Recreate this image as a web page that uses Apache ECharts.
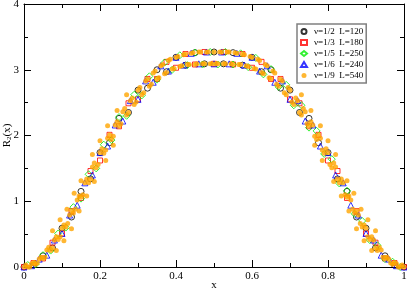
<!DOCTYPE html>
<html><head><meta charset="utf-8">
<script src="https://cdn.jsdelivr.net/npm/echarts@6/dist/echarts.min.js"></script>
<style>html,body{margin:0;padding:0;background:#fff}#c{width:407px;height:291px}</style>
</head><body><div id="c"></div>
<script>
// ---- data ----
var seriesNames = ['ν=1/2  L=120','ν=1/3  L=180','ν=1/5  L=250','ν=1/6  L=240','ν=1/9  L=540'];
var xTicks = [0, 0.2, 0.4, 0.6, 0.8, 1];
var yTicks = [0, 1, 2, 3, 4];

var xGrid25 = [0,0.025,0.05,0.075,0.1,0.125,0.15,0.175,0.2,0.225,0.25,0.275,0.3,0.325,0.35,0.375,0.4,0.425,0.45,0.475,0.5,
  0.525,0.55,0.575,0.6,0.625,0.65,0.675,0.7,0.725,0.75,0.775,0.8,0.825,0.85,0.875,0.9,0.925,0.95,0.975,1];
var yHalf = [0.00,0.03,0.17,0.29,0.59,0.76,1.15,1.34,1.74,1.89,2.26,2.35,2.69,2.72,3.00,2.97,3.19,3.07,3.26,3.09,3.27,
  3.09,3.26,3.07,3.19,2.97,3.00,2.72,2.69,2.35,2.26,1.89,1.74,1.34,1.15,0.76,0.59,0.29,0.17,0.03,0.00];
var yThird = [0.00,0.06,0.13,0.37,0.51,0.85,1.05,1.46,1.62,2.01,2.14,2.49,2.55,2.86,2.86,3.12,3.03,3.24,3.08,3.27,3.09,
  3.27,3.08,3.24,3.03,3.12,2.86,2.86,2.55,2.49,2.14,2.01,1.62,1.46,1.05,0.85,0.51,0.37,0.13,0.06,0.00];

var xGridOdd = [0.01,0.03,0.05,0.07,0.09,0.11,0.13,0.15,0.17,0.19,0.21,0.23,0.25,0.27,0.29,0.31,0.33,0.35,0.37,0.39,0.41,0.43,0.45,0.47,0.49,
  0.51,0.53,0.55,0.57,0.59,0.61,0.63,0.65,0.67,0.69,0.71,0.73,0.75,0.77,0.79,0.81,0.83,0.85,0.87,0.89,0.91,0.93,0.95,0.97,0.99];
var yFifth = [0.03,0.04,0.18,0.25,0.51,0.60,0.91,1.04,1.41,1.50,1.86,1.93,2.28,2.30,2.62,2.61,2.90,2.85,3.11,3.00,3.22,3.07,3.26,3.08,3.27,
  3.08,3.27,3.08,3.25,3.04,3.18,2.93,3.01,2.74,2.77,2.46,2.46,2.12,2.07,1.72,1.64,1.27,1.16,0.81,0.70,0.41,0.33,0.12,0.08,0.00];

var xGridEven = [0,0.02,0.04,0.06,0.08,0.1,0.12,0.14,0.16,0.18,0.2,0.22,0.24,0.26,0.28,0.3,0.32,0.34,0.36,0.38,0.4,0.42,0.44,0.46,0.48,0.5,
  0.52,0.54,0.56,0.58,0.6,0.62,0.64,0.66,0.68,0.7,0.72,0.74,0.76,0.78,0.8,0.82,0.84,0.86,0.88,0.9,0.92,0.94,0.96,0.98,1];
var ySixth = [0.00,0.02,0.12,0.18,0.41,0.51,0.79,0.94,1.28,1.40,1.74,1.84,2.16,2.22,2.53,2.55,2.83,2.81,3.06,2.98,3.19,3.07,3.25,3.09,3.27,3.09,
  3.27,3.09,3.25,3.07,3.19,2.98,3.06,2.81,2.83,2.55,2.53,2.22,2.16,1.84,1.74,1.40,1.28,0.94,0.79,0.51,0.41,0.18,0.12,0.02,0.00];

var xGrid01 = [0,0.01,0.02,0.03,0.04,0.05,0.06,0.07,0.08,0.09,0.1,0.11,0.12,0.13,0.14,0.15,0.16,0.17,0.18,0.19,0.2,
  0.21,0.22,0.23,0.24,0.25,0.26,0.27,0.28,0.29,0.3,0.31,0.32,0.33,0.34,0.35,0.36,0.37,0.38,0.39,0.4,
  0.41,0.42,0.43,0.44,0.45,0.46,0.47,0.48,0.49,0.5,0.51,0.52,0.53,0.54,0.55,0.56,0.57,0.58,0.59,0.6,
  0.61,0.62,0.63,0.64,0.65,0.66,0.67,0.68,0.69,0.7,0.71,0.72,0.73,0.74,0.75,0.76,0.77,0.78,0.79,0.8,
  0.81,0.82,0.83,0.84,0.85,0.86,0.87,0.88,0.89,0.9,0.91,0.92,0.93,0.94,0.95,0.96,0.97,0.98,0.99,1];
var yNinth = [0.00,0.00,0.05,0.04,0.12,0.13,0.26,0.25,0.41,0.42,0.59,0.61,0.79,0.82,1.02,1.06,1.28,1.28,1.52,1.51,1.74,
  1.73,1.96,1.94,2.16,2.14,2.36,2.31,2.53,2.47,2.69,2.62,2.83,2.75,2.95,2.86,3.06,2.94,3.14,3.01,3.19,
  3.05,3.23,3.08,3.25,3.08,3.27,3.09,3.27,3.09,3.27,3.09,3.27,3.09,3.27,3.08,3.25,3.08,3.23,3.05,3.19,
  3.01,3.14,2.94,3.06,2.86,2.95,2.75,2.83,2.62,2.69,2.47,2.53,2.31,2.36,2.14,2.16,1.94,1.96,1.73,1.74,
  1.51,1.52,1.28,1.28,1.06,1.02,0.82,0.79,0.61,0.59,0.42,0.41,0.25,0.26,0.13,0.12,0.04,0.05,0.00,0.00];
var xGrid005 = [0.005,0.015,0.025,0.035,0.045,0.055,0.065,0.075,0.085,0.095,0.105,0.115,0.125,0.135,0.145,0.155,0.165,0.175,0.185,0.195,
  0.205,0.215,0.225,0.235,0.245,0.255,0.265,0.275,0.285,0.295,0.305,0.315,0.325,0.335,0.345,0.355,0.365,0.375,0.385,0.395,
  0.405,0.415,0.425,0.435,0.445,0.455,0.465,0.475,0.485,0.495,0.505,0.515,0.525,0.535,0.545,0.555,0.565,0.575,0.585,0.595,
  0.605,0.615,0.625,0.635,0.645,0.655,0.665,0.675,0.685,0.695,0.705,0.715,0.725,0.735,0.745,0.755,0.765,0.775,0.785,0.795,
  0.805,0.815,0.825,0.835,0.845,0.855,0.865,0.875,0.885,0.895,0.905,0.915,0.925,0.935,0.945,0.955,0.965,0.975,0.985,0.995];
var yNinthB = [0.03,0.00,0.07,0.06,0.15,0.15,0.30,0.29,0.46,0.46,0.64,0.66,0.85,0.88,1.08,1.10,1.34,1.34,1.58,1.56,
  1.80,1.78,2.01,1.99,2.21,2.18,2.41,2.35,2.57,2.51,2.73,2.65,2.86,2.78,2.98,2.88,3.08,2.96,3.16,3.02,
  3.20,3.06,3.24,3.08,3.26,3.09,3.27,3.09,3.27,3.09,3.09,3.27,3.09,3.27,3.09,3.26,3.08,3.24,3.06,3.20,
  3.02,3.16,2.96,3.08,2.88,2.98,2.78,2.86,2.65,2.73,2.51,2.57,2.35,2.41,2.18,2.21,1.99,2.01,1.78,1.80,
  1.56,1.58,1.34,1.34,1.10,1.08,0.88,0.85,0.66,0.64,0.46,0.46,0.29,0.30,0.15,0.15,0.06,0.07,0.00,0.03];
var xNinthExtra = [0.075,0.095,0.113,0.132,0.15,0.18,0.2,0.22,0.245,0.27,0.085,0.105,0.125,0.145,0.165,0.185,0.215,0.235,
  0.925,0.905,0.887,0.868,0.85,0.82,0.8,0.78,0.755,0.73,0.915,0.895,0.875,0.855,0.835,0.815,0.785,0.765];
var yNinthExtra = [0.55,0.72,0.88,1.12,1.31,1.71,1.92,2.15,2.38,2.62,0.25,0.40,0.58,0.85,1.08,1.30,1.62,1.85,
  0.55,0.72,0.88,1.12,1.31,1.71,1.92,2.15,2.38,2.62,0.25,0.40,0.58,0.85,1.08,1.30,1.62,1.85];

function pairs(xs, ys){ var out=[]; for (var i=0;i<xs.length;i++) out.push([xs[i], ys[i]]); return out; }

var chart = echarts.init(document.getElementById('c'), null, {renderer:'canvas'});
var serif = 'Liberation Serif, Times New Roman, serif';
var axisCommon = {
  axisLine:{show:true,onZero:false,lineStyle:{color:'#000',width:1}},
  splitLine:{show:false},
  axisTick:{show:true,inside:true,length:7,lineStyle:{color:'#000'}},
  minorTick:{show:true,splitNumber:2,length:4,lineStyle:{color:'#000'}}
};
function hollow(c){ return {color:'rgba(0,0,0,0)', borderColor:c, borderWidth:1}; }
chart.setOption({
  animation:false,
  backgroundColor:'#fff',
  grid:{left:24,right:3,top:4,bottom:24,containLabel:false,outerBoundsMode:'none'},
  legend:{
    orient:'vertical', left:297, top:24, itemGap:2, itemWidth:6, itemHeight:5,
    padding:[3,3,3,3], backgroundColor:'#fff', borderColor:'#808080', borderWidth:1.5,
    textStyle:{fontFamily:serif,fontSize:9,color:'#000',padding:[0,0,0,2]},
    data:seriesNames
  },
  xAxis:[
    Object.assign({type:'value',min:0,max:1,interval:0.2,position:'bottom',
      axisLabel:{color:'#000',fontFamily:serif,fontSize:11,margin:4,
        formatter:function(v){return xTicks.indexOf(Math.round(v*10)/10)>=0 ? String(Math.round(v*10)/10) : '';}},
      name:'x',nameLocation:'middle',nameGap:13,nameMoveOverlap:false,nameTextStyle:{fontFamily:serif,fontSize:11,color:'#000'}}, axisCommon),
    Object.assign({type:'value',min:0,max:1,interval:0.2,position:'top',axisLabel:{show:false}}, axisCommon)
  ],
  yAxis:[
    Object.assign({type:'value',min:0,max:4,interval:1,position:'left',
      axisLabel:{color:'#000',fontFamily:serif,fontSize:11,margin:5,
        formatter:function(v){return yTicks.indexOf(v)>=0 ? String(v) : '';}},
      name:'{a|R}{b|2}{a|(x)}',nameLocation:'middle',nameGap:11,nameRotate:90,nameMoveOverlap:false,
      nameTextStyle:{fontFamily:serif,fontSize:11,color:'#000',
        rich:{a:{fontFamily:serif,fontSize:11,color:'#000'},b:{fontFamily:serif,fontSize:7,color:'#000',padding:[5,0,0,0]}}}}, axisCommon),
    Object.assign({type:'value',min:0,max:4,interval:1,position:'right',axisLabel:{show:false}}, axisCommon)
  ],
  series:[
    {name:seriesNames[0],type:'scatter',symbol:'circle',symbolSize:6,itemStyle:hollow('#000'),data:pairs(xGrid25,yHalf)},
    {name:seriesNames[1],type:'scatter',symbol:'rect',symbolSize:5,itemStyle:hollow('#ff0000'),data:pairs(xGrid25,yThird)},
    {name:seriesNames[2],type:'scatter',symbol:'diamond',symbolSize:7,itemStyle:hollow('#00ee00'),data:pairs(xGridOdd,yFifth)},
    {name:seriesNames[3],type:'scatter',symbol:'triangle',symbolSize:6,itemStyle:hollow('#0000ff'),data:pairs(xGridEven,ySixth)},
    {name:seriesNames[4],type:'scatter',symbol:'circle',symbolSize:5,itemStyle:{color:'#ffa500'},
      data:pairs(xGrid01,yNinth).concat(pairs(xGrid005,yNinthB)).concat(pairs(xNinthExtra,yNinthExtra))}
  ]
});
</script></body></html>
